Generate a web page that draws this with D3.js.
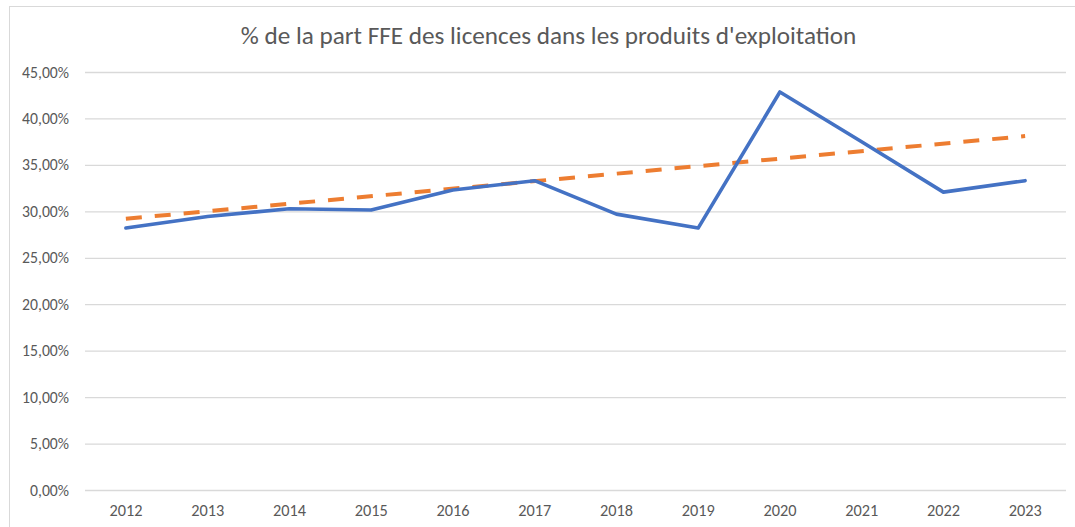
<!DOCTYPE html>
<html>
<head>
<meta charset="utf-8">
<script src="https://cdn.jsdelivr.net/npm/d3@7"></script>
<style>
  body { margin: 0; background: #fff; }
  svg { display: block; }
</style>
</head>
<body>
<div id="wrapper"></div>
<script>
// data
const years = ["2012", "2013", "2014", "2015", "2016", "2017", "2018", "2019", "2020", "2021", "2022", "2023"];
const partLicences = [28.2, 29.45, 30.28, 30.15, 32.3, 33.3, 29.7, 28.2, 42.85, 37.5, 32.07, 33.3];
// linear trendline end points (first and last year)
const trendYears = ["2012", "2023"];
const trendValues = [29.2, 38.1];
const yTicks = [0, 5, 10, 15, 20, 25, 30, 35, 40, 45];
const title = "% de la part FFE des licences dans les produits d'exploitation";

function drawChart() {
    const width = 1075
    let dimensions = {
        width: width,
        height: 527,
        margin: {
            top: 72,
            right: 9,
            bottom: 37,
            left: 85,
        },
    }
    dimensions.boundedWidth = dimensions.width - dimensions.margin.left - dimensions.margin.right
    dimensions.boundedHeight = dimensions.height - dimensions.margin.top - dimensions.margin.bottom

    const font = "Carlito, Calibri, 'Liberation Sans Narrow', 'Open Sans', sans-serif";
    const textColor = "#595959";

    const wrapper = d3.select("#wrapper")
        .html("")
        .append("svg")
        .attr("width", dimensions.width)
        .attr("height", dimensions.height);

    // chart area border
    wrapper.append("rect")
        .attr("x", 9.5)
        .attr("y", 6.5)
        .attr("width", 1100)
        .attr("height", 600)
        .attr("fill", "none")
        .attr("stroke", "#d9d9d9")
        .attr("stroke-width", 1);

    wrapper.append("text")
        .attr("x", 548.5)
        .attr("y", 44)
        .attr("text-anchor", "middle")
        .attr("fill", textColor)
        .attr("font-family", font)
        .attr("font-size", "25.2px")
        .text(title);

    const bounds = wrapper.append("g")
        .attr("transform", `translate(${dimensions.margin.left},${dimensions.margin.top})`);

    const xScaler = d3.scaleBand()
        .domain(years)
        .range([0, dimensions.boundedWidth]);

    const yScaler = d3.scaleLinear()
        .domain([0, 45])
        .range([dimensions.boundedHeight, 0]);

    const xPos = d => xScaler(d) + xScaler.bandwidth() / 2;

    // y axis: gridlines + labels
    const yAxisGen = d3.axisLeft(yScaler)
        .tickValues(yTicks)
        .tickSize(-dimensions.boundedWidth)
        .tickPadding(16)
        .tickFormat(d => d3.format(".2f")(d).replace(".", ",") + "%");
    const yAxis = bounds.append("g").call(yAxisGen);
    yAxis.select(".domain").remove();
    yAxis.selectAll(".tick line")
        .attr("stroke", "#d9d9d9")
        .attr("stroke-width", 1.3);
    yAxis.selectAll(".tick text")
        .attr("fill", textColor)
        .attr("font-family", font)
        .attr("font-size", "15.7px");

    // x axis labels
    const xAxisGen = d3.axisBottom(xScaler).tickSize(0).tickPadding(14);
    const xAxis = bounds.append("g")
        .attr("transform", `translate(0,${dimensions.boundedHeight})`)
        .call(xAxisGen);
    xAxis.select(".domain").remove();
    xAxis.selectAll(".tick text")
        .attr("fill", textColor)
        .attr("font-family", font)
        .attr("font-size", "16.3px");

    // trendline
    const trend = trendYears.map((y, i) => [y, trendValues[i]]);
    bounds.append("path")
        .datum(trend)
        .attr("fill", "none")
        .attr("stroke", "#ED7D31")
        .attr("stroke-width", 4)
        .attr("stroke-dasharray", "16,13")
        .attr("d", d3.line().x(d => xPos(d[0])).y(d => yScaler(d[1])));

    // data line
    const series = years.map((y, i) => [y, partLicences[i]]);
    bounds.append("path")
        .datum(series)
        .attr("fill", "none")
        .attr("stroke", "#4472C4")
        .attr("stroke-width", 3.6)
        .attr("stroke-linejoin", "round")
        .attr("stroke-linecap", "round")
        .attr("d", d3.line().x(d => xPos(d[0])).y(d => yScaler(d[1])));
}

drawChart();
</script>
</body>
</html>
